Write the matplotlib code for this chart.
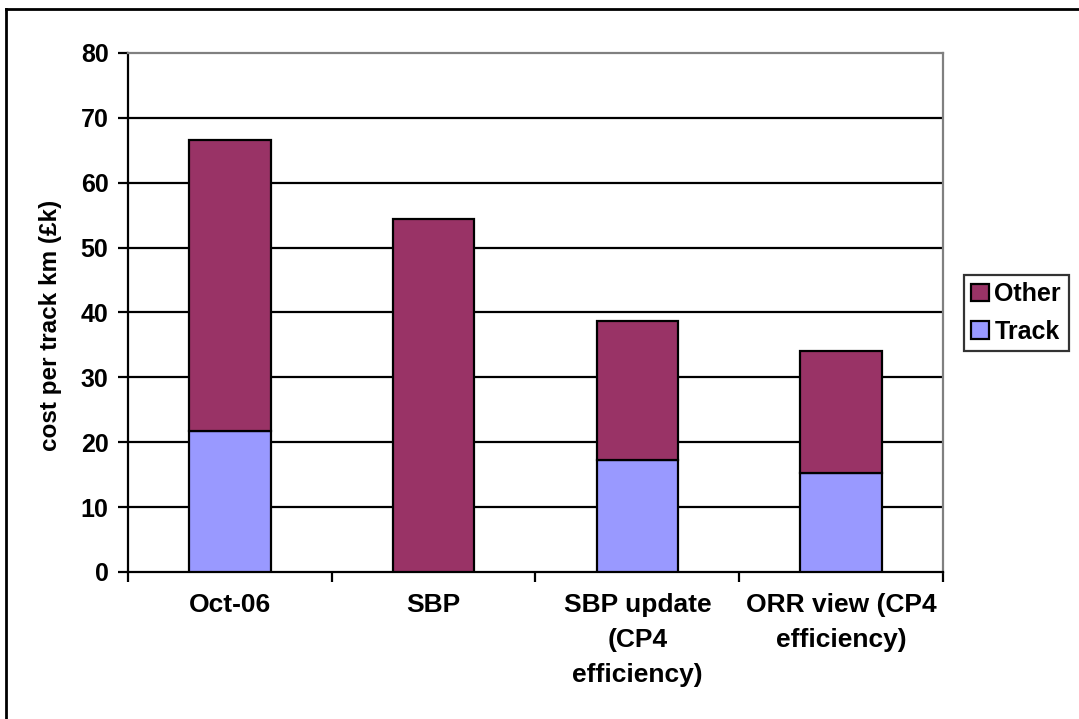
import matplotlib
matplotlib.use("Agg")
import matplotlib.pyplot as plt
from matplotlib.lines import Line2D
import numpy as np

categories = ["Oct-06", "SBP", "SBP update\n(CP4\nefficiency)", "ORR view (CP4\nefficiency)"]
track = [21.7, 0.0, 17.2, 15.3]
other = [44.9, 54.4, 21.5, 18.8]
series_names = ["Other", "Track"]
colors = {"Other": "#993366", "Track": "#9999FF"}
yticks = [0, 10, 20, 30, 40, 50, 60, 70, 80]

plt.rcParams["font.family"] = ["Liberation Sans", "DejaVu Sans"]
plt.rcParams["font.weight"] = "bold"

fig = plt.figure(figsize=(10.79, 7.19), dpi=100)
ax = fig.add_axes([0.1186, 0.2045, 0.7553, 0.7218])

x = np.arange(len(categories))
w = 0.4
b_track = ax.bar(x, track, w, color=colors["Track"], edgecolor="black", linewidth=1.6, zorder=3, label="Track")
b_other = ax.bar(x, other, w, bottom=track, color=colors["Other"], edgecolor="black", linewidth=1.6, zorder=3, label="Other")

ax.set_xlim(-0.5, len(categories) - 0.5)
ax.set_ylim(0, 80)
ax.set_yticks(yticks)
ax.set_yticklabels([str(v) for v in yticks], fontsize=18, fontweight="bold")
for v in yticks[1:-1]:
    ax.axhline(v, color="black", linewidth=1.6, zorder=1)

# category separators as ticks, labels centered under bars
ax.set_xticks(np.arange(-0.5, len(categories), 1.0))
ax.set_xticklabels([])
ax.set_xticks(x, minor=True)
ax.set_xticklabels(categories, minor=True, fontsize=19, fontweight="bold", linespacing=1.58, va="top")
ax.tick_params(axis="x", which="minor", length=0, pad=15)
ax.tick_params(axis="x", which="major", length=7, width=1.6, direction="out")
ax.tick_params(axis="y", length=7, width=1.6, direction="out", pad=7)

ax.spines["left"].set_linewidth(1.6)
ax.spines["bottom"].set_linewidth(1.6)
ax.spines["top"].set_color("#808080")
ax.spines["right"].set_color("#808080")
ax.spines["top"].set_linewidth(1.6)
ax.spines["right"].set_linewidth(1.6)

ax.set_ylabel("cost per track km (£k)", fontsize=17.5, fontweight="bold")
ax.yaxis.set_label_coords(-0.081, 0.476)

leg = fig.legend([b_other, b_track], series_names, loc="center left",
                 bbox_to_anchor=(0.8934, 0.5647), frameon=True, fancybox=False,
                 edgecolor="black", fontsize=18, handlelength=0.7, handleheight=0.7,
                 handletextpad=0.22, borderpad=0.3, labelspacing=0.55, borderaxespad=0)
leg.get_frame().set_linewidth(1.6)
for t in leg.get_texts():
    t.set_fontweight("bold")

# outer chart frame (top and left edges)
fig.add_artist(Line2D([0.0056, 0.0056], [0, 0.987], transform=fig.transFigure, color="black", linewidth=2))
fig.add_artist(Line2D([0.0056, 1.0], [0.987, 0.987], transform=fig.transFigure, color="black", linewidth=2))

fig.savefig("out.png", dpi=100, facecolor="white")
